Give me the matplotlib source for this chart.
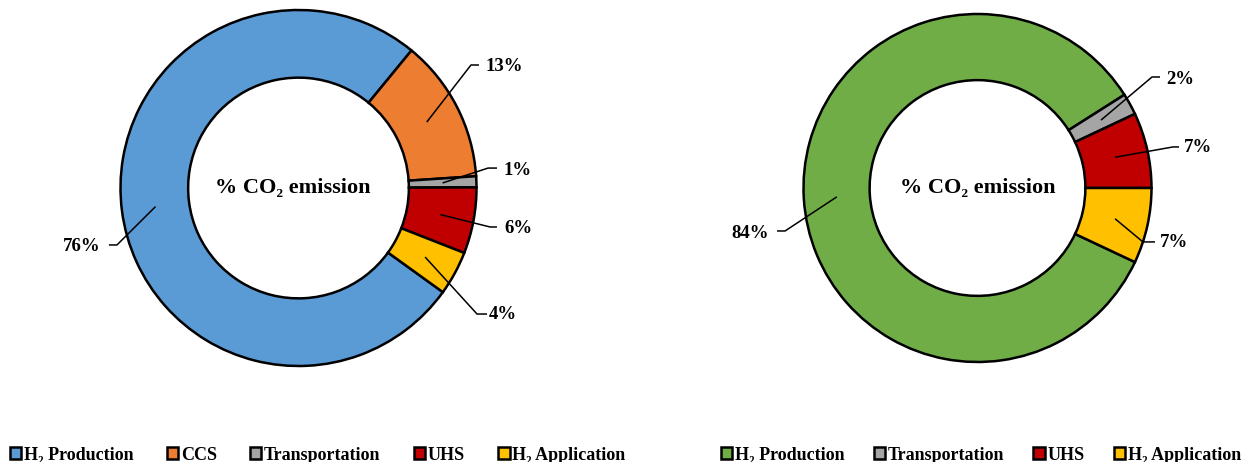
import numpy as np
import matplotlib.pyplot as plt
from matplotlib.patches import Patch

plt.rcParams['font.family'] = ['Liberation Serif', 'DejaVu Serif']
plt.rcParams['font.weight'] = 'bold'

# Left donut: with CCS
left_labels = ['H₂ Production', 'CCS', 'Transportation', 'UHS', 'H₂ Application']
left_values = [76, 13, 1, 6, 4]
left_colors = ['#5B9BD5', '#ED7D31', '#A5A5A5', '#C00000', '#FFC000']

# Right donut: without CCS
right_labels = ['H₂ Production', 'Transportation', 'UHS', 'H₂ Application']
right_values = [84, 2, 7, 7]
right_colors = ['#70AD47', '#A5A5A5', '#C00000', '#FFC000']

W, H = 1245, 462
fig = plt.figure(figsize=(W / 100, H / 100), dpi=100)

# leader line layout: (elbow, end of elbow, text anchor, ha) in data units of the donut
left_leaders = [
    ((-1.020, -0.320), (-1.065, -0.320), (-1.115, -0.331), 'right'),
    ((0.969, 0.691), (1.014, 0.691), (1.048, 0.680), 'left'),
    ((1.065, 0.112), (1.115, 0.112), (1.149, 0.096), 'left'),
    ((1.076, -0.219), (1.115, -0.219), (1.155, -0.225), 'left'),
    ((1.003, -0.708), (1.059, -0.708), (1.071, -0.713), 'left'),
]
right_leaders = [
    ((-1.106, -0.247), (-1.152, -0.247), (-1.198, -0.259), 'right'),
    ((1.003, 0.638), (1.049, 0.638), (1.084, 0.626), 'left'),
    ((1.124, 0.236), (1.158, 0.236), (1.188, 0.230), 'left'),
    ((0.951, -0.310), (1.020, -0.310), (1.050, -0.316), 'left'),
]


def donut(rect, values, colors, start, leaders, cx):
    ax = fig.add_axes(rect)
    wedges, _ = ax.pie(values, colors=colors, startangle=start, counterclock=False,
                       radius=1.0,
                       wedgeprops=dict(width=0.38, edgecolor='black', linewidth=1.8))
    ax.set_xlim(-1, 1)
    ax.set_ylim(-1, 1)
    ax.set_aspect('equal')
    ax.axis('off')
    total = sum(values)
    for w, v, (elbow, end, txt, ha) in zip(wedges, values, leaders):
        mid = np.deg2rad((w.theta1 + w.theta2) / 2)
        sx, sy = 0.81 * np.cos(mid), 0.81 * np.sin(mid)
        ax.plot([sx, elbow[0], end[0]], [sy, elbow[1], end[1]], color='black',
                lw=1.1, clip_on=False, solid_capstyle='butt')
        ax.text(txt[0], txt[1], f'{round(100 * v / total)}%', ha=ha, va='center',
                fontsize=13.5, fontweight='bold', clip_on=False)
    ax.text(cx, 0.0, '% CO₂ emission', ha='center', va='center',
            fontsize=16, fontweight='bold')
    return ax


donut([120.5 / W, (H - 366) / H, 356 / W, 356 / H], left_values, left_colors,
      -35.8, left_leaders, -0.03)
donut([803.5 / W, (H - 362) / H, 348 / W, 348 / H], right_values, right_colors,
      -25.2, right_leaders, 0.0)


def legend(labels, colors, x, spacing):
    handles = [Patch(facecolor=c, edgecolor='black', linewidth=1.8) for c in colors]
    fig.legend(handles, labels, loc='center left', bbox_to_anchor=(x, 7 / H),
               ncol=len(labels), frameon=False, fontsize=13,
               handlelength=0.62, handleheight=0.62, handletextpad=0.15,
               columnspacing=spacing, borderaxespad=0, borderpad=0)


legend(left_labels, left_colors, 10 / W, 1.85)
legend(right_labels, right_colors, 721 / W, 1.62)

fig.savefig('out.png', dpi=100)
